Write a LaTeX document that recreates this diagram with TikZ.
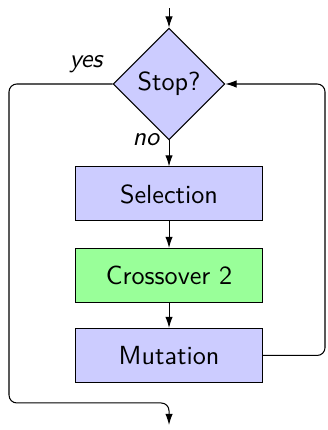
\documentclass[tikz,border=0pt]{standalone}
\usepackage{tikz}
\usetikzlibrary{positioning,arrows.meta,shapes.geometric}
\tikzset{
  stepbox/.style = {draw, fill=blue!20, minimum width=2.51cm,
                    minimum height=0.725cm, inner sep=3pt},
  xover/.style   = {stepbox, fill=green!40},
  dec/.style     = {draw, diamond, aspect=1, fill=blue!20,
                    minimum width=1.5cm, minimum height=1.5cm, inner sep=1pt},
  ar/.style      = {-{Latex[length=1.5mm,width=1mm]}},
  lbl/.style     = {font=\sffamily\itshape, inner sep=1pt},
}
\begin{document}
\begin{tikzpicture}[font=\sffamily]
\useasboundingbox (-2.27,-4.647) rectangle (2.122,1.128);
\coordinate (in) at (0,1.02);
\coordinate (out) at (0,-4.58);
\node[dec] (stop) at (0,0) {Stop?};
\node[stepbox] (sel) at (0,-1.477) {Selection};
\node[xover] (cross) at (0,-2.572) {Crossover 2};
\node[stepbox] (mut) at (0,-3.646) {Mutation};
\draw[ar] (in) -- (stop.north);
\draw[ar] (stop.south) -- (sel);
\draw[ar] (sel) -- (cross);
\draw[ar] (cross) -- (mut);
\draw[ar, rounded corners=3pt] (mut.east) -- (2.095,-3.646) |- (stop.east);
\draw[ar, rounded corners=3pt] (stop.west) -| (-2.149,-4.284) -| (out);
\node[lbl] (yes) at (-1.115,0.269) {yes};
\node[lbl] (no) at (-0.309,-0.752) {no};
\end{tikzpicture}
\end{document}
